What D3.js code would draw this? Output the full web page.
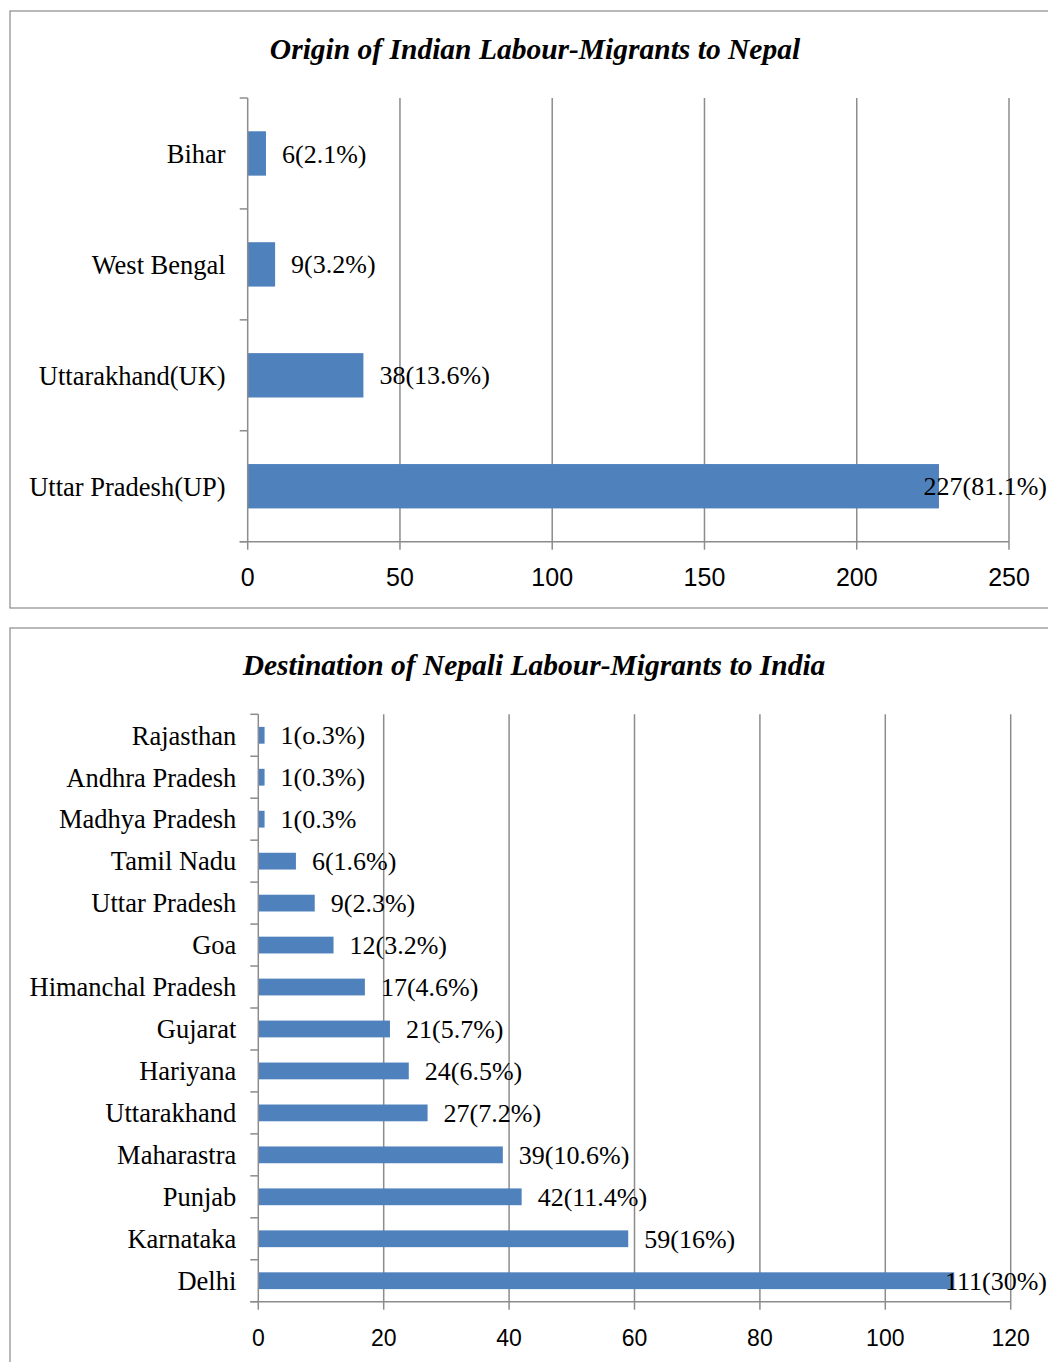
<!DOCTYPE html>
<html>
<head>
<meta charset="utf-8">
<script src="https://cdn.jsdelivr.net/npm/d3@7"></script>
<style>
  body { margin: 0; background: #fff; }
  .frame { fill: none; stroke: #8a8a8a; stroke-width: 1.2; }
  .title { font-family: "Liberation Serif", "Times New Roman", serif; font-weight: bold; font-style: italic; font-size: 29.5px; }
  .cat { font-family: "Liberation Serif", "Times New Roman", serif; font-size: 26.5px; fill: #000; }
  .val { font-family: "Liberation Serif", "Times New Roman", serif; font-size: 26px; fill: #000; }
  .tick-label { font-family: "Liberation Sans", Arial, sans-serif; fill: #000; }
  .grid line, .axis line, .axis path { stroke: #8c8c8c; stroke-width: 1.5; }
</style>
</head>
<body>
<div id="vis"></div>
<script>
const width = 1048;
const height = 1362;

// chart 1 - origin of indian migrants
const originStates = ["Bihar", "West Bengal", "Uttarakhand(UK)", "Uttar Pradesh(UP)"];
const originCounts = [6, 9, 38, 227];
const originLabels = ["6(2.1%)", "9(3.2%)", "38(13.6%)", "227(81.1%)"];
const originTicks = [0, 50, 100, 150, 200, 250];

// chart 2 - destination of nepali migrants
const destStates = ["Rajasthan", "Andhra Pradesh", "Madhya Pradesh", "Tamil Nadu", "Uttar Pradesh", "Goa",
  "Himanchal Pradesh", "Gujarat", "Hariyana", "Uttarakhand", "Maharastra", "Punjab", "Karnataka", "Delhi"];
const destCounts = [1, 1, 1, 6, 9, 12, 17, 21, 24, 27, 39, 42, 59, 111];
const destLabels = ["1(o.3%)", "1(0.3%)", "1(0.3%", "6(1.6%)", "9(2.3%)", "12(3.2%)", "17(4.6%)",
  "21(5.7%)", "24(6.5%)", "27(7.2%)", "39(10.6%)", "42(11.4%)", "59(16%)", "111(30%)"];
const destTicks = [0, 20, 40, 60, 80, 100, 120];

const barColor = "#4f81bd";

const svg = d3.select("#vis").append("svg")
  .attr("width", width)
  .attr("height", height);

drawPanel({
  box: [10, 11, 1060, 597],
  title: "Origin of Indian Labour-Migrants to Nepal",
  titleX: 535, titleY: 59,
  cats: originStates, vals: originCounts, labels: originLabels, ticks: originTicks,
  x0: 247.7, x1: 1009, y0: 98, y1: 541.7,
  tickFont: 25, tickY: 586
});

drawPanel({
  box: [10, 628, 1060, 760],
  title: "Destination of Nepali Labour-Migrants to India",
  titleX: 534, titleY: 675,
  cats: destStates, vals: destCounts, labels: destLabels, ticks: destTicks,
  x0: 258.3, x1: 1010.7, y0: 714.3, y1: 1301.7,
  tickFont: 23, tickY: 1346
});

function drawPanel(p) {
  const g = svg.append("g");

  g.append("rect").attr("class", "frame")
    .attr("x", p.box[0]).attr("y", p.box[1])
    .attr("width", p.box[2]).attr("height", p.box[3]);

  g.append("text").attr("class", "title")
    .attr("x", p.titleX).attr("y", p.titleY)
    .attr("text-anchor", "middle")
    .text(p.title);

  const x = d3.scaleLinear()
    .domain([p.ticks[0], p.ticks[p.ticks.length - 1]])
    .range([p.x0, p.x1]);

  const y = d3.scaleBand()
    .domain(p.cats)
    .range([p.y0, p.y1])
    .paddingInner(0.6)
    .paddingOuter(0.3);

  // vertical gridlines
  g.append("g").attr("class", "grid")
    .selectAll("line").data(p.ticks.slice(1)).enter().append("line")
    .attr("x1", d => x(d)).attr("x2", d => x(d))
    .attr("y1", p.y0).attr("y2", p.y1);

  // bars
  g.selectAll("rect.bar").data(p.vals).enter().append("rect")
    .attr("class", "bar")
    .attr("x", x(0))
    .attr("y", (d, i) => y(p.cats[i]))
    .attr("width", d => x(d) - x(0))
    .attr("height", y.bandwidth())
    .attr("fill", barColor);

  // y axis with ticks between categories
  const yAxis = g.append("g").attr("class", "axis");
  yAxis.append("line")
    .attr("x1", x(0)).attr("x2", x(0))
    .attr("y1", p.y0).attr("y2", p.y1);
  const bounds = p.cats.map(c => y(c) - y.step() * 0.3).concat([p.y1]);
  yAxis.selectAll("line.yt").data(bounds).enter().append("line")
    .attr("class", "yt")
    .attr("x1", x(0) - 8).attr("x2", x(0))
    .attr("y1", d => d).attr("y2", d => d);

  // x axis
  const xAxis = g.append("g").attr("class", "axis");
  xAxis.append("line")
    .attr("x1", x(0) - 8).attr("x2", x(p.ticks[p.ticks.length - 1]))
    .attr("y1", p.y1).attr("y2", p.y1);
  xAxis.selectAll("line.xt").data(p.ticks).enter().append("line")
    .attr("class", "xt")
    .attr("x1", d => x(d)).attr("x2", d => x(d))
    .attr("y1", p.y1).attr("y2", p.y1 + 8);
  g.selectAll("text.tick-label").data(p.ticks).enter().append("text")
    .attr("class", "tick-label")
    .attr("x", d => x(d)).attr("y", p.tickY)
    .attr("text-anchor", "middle")
    .style("font-size", p.tickFont + "px")
    .text(d => d);

  // category labels
  g.selectAll("text.cat").data(p.cats).enter().append("text")
    .attr("class", "cat")
    .attr("x", x(0) - 22)
    .attr("y", d => y(d) + y.bandwidth() / 2)
    .attr("dy", "0.35em")
    .attr("text-anchor", "end")
    .text(d => d);

  // value labels, pushed back inside when they'd run off the page
  g.selectAll("text.val").data(p.labels).enter().append("text")
    .attr("class", "val")
    .attr("y", (d, i) => y(p.cats[i]) + y.bandwidth() / 2)
    .attr("dy", "0.35em")
    .text(d => d)
    .attr("x", function (d, i) {
      const w = this.getComputedTextLength();
      return Math.min(x(p.vals[i]) + 16, 1047 - w);
    });
}
</script>
</body>
</html>
